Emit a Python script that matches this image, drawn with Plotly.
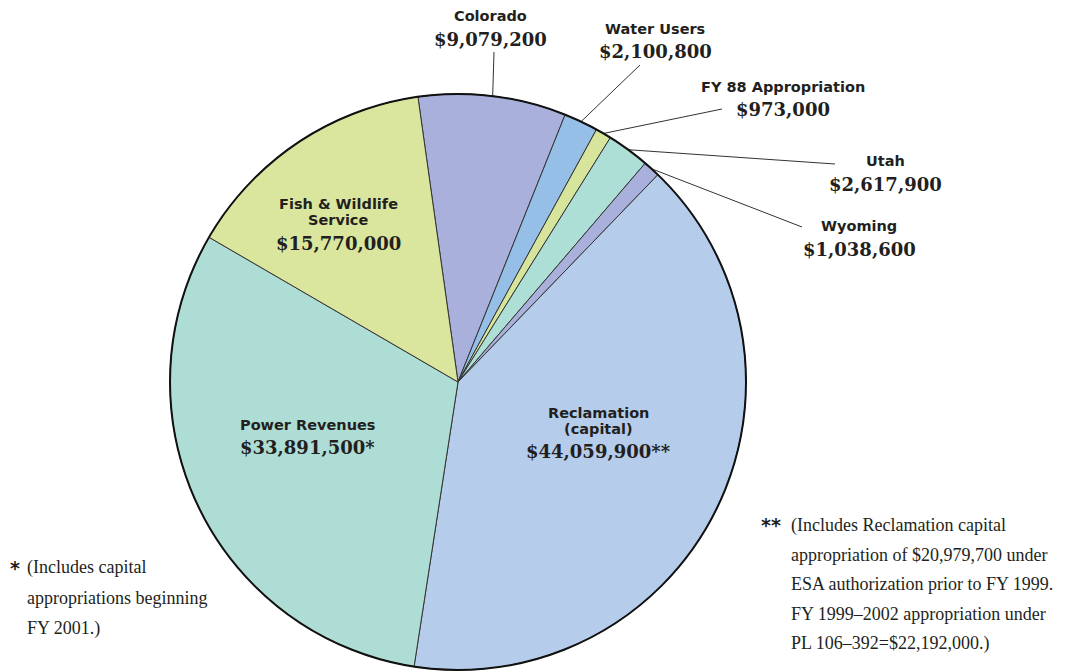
import math
import plotly.graph_objects as go

W, H = 1085, 671

# ---- data ----
labels = ["Colorado", "Water Users", "FY 88 Appropriation", "Utah", "Wyoming",
          "Reclamation (capital)", "Power Revenues", "Fish & Wildlife Service"]
values = [9079200, 2100800, 973000, 2617900, 1038600, 44059900, 33891500, 15770000]
colors = ["#A9B0DC", "#95BFE6", "#D7E59C", "#AEDFD6", "#A9B0DC",
          "#B5CDEB", "#AEDDD5", "#DAE69D"]
name_lines = [["Colorado"], ["Water Users"], ["FY 88 Appropriation"], ["Utah"], ["Wyoming"],
              ["Reclamation", "(capital)"], ["Power Revenues"], ["Fish & Wildlife", "Service"]]
value_suffix = ["", "", "", "", "", "**", "*", ""]
note_left = ["(Includes capital", "appropriations beginning", "FY 2001.)"]
note_right = ["(Includes Reclamation capital", "appropriation of $20,979,700 under",
              "ESA authorization prior to FY 1999.", "FY 1999\u20132002 appropriation under",
              "PL 106\u2013392=$22,192,000.)"]

# ---- layout helpers (screen pixel -> paper; page body has an 8px margin) ----
OFF = 8

def px(x):
    return (x - OFF) / W

def py(y):
    return 1 - (y - OFF) / H

cx, cy, R = 458, 382, 288
total = sum(values)
rotation = -8

fig = go.Figure(go.Pie(
    labels=labels, values=values, sort=False, direction="clockwise",
    rotation=rotation, textinfo="none", hoverinfo="label+value",
    marker=dict(colors=colors, line=dict(color="#333333", width=1)),
    domain=dict(x=[px(cx - R), px(cx + R)], y=[py(cy + R), py(cy - R)]),
    showlegend=False,
))

TXT = "#231f20"
SANS = "DejaVu Sans"
SERIF = "DejaVu Serif"

# label anchor positions (screen px): x center, name y, value y
label_pos = [
    (490, 16, 39),
    (655, 29, 52),
    (783, 87, 110),
    (885, 161, 185),
    (859, 226, 249),
    (598, 413, 452),
    (307, 425, 448),
    (338, 204, 243),
]

annotations = []
for i, (x, yn, yv) in enumerate(label_pos):
    for j, ln in enumerate(name_lines[i]):
        annotations.append(dict(
            x=px(x), y=py(yn + 16 * j), xref="paper", yref="paper", text="<b>" + ln + "</b>",
            showarrow=False, xanchor="center", yanchor="middle",
            font=dict(family=SANS, size=14.5, color=TXT)))
    annotations.append(dict(
        x=px(x), y=py(yv), xref="paper", yref="paper",
        text="<b>${:,}{}</b>".format(values[i], value_suffix[i]),
        showarrow=False, xanchor="center", yanchor="middle",
        font=dict(family=SERIF, size=18, color=TXT)))

# footnotes
NOTE = dict(family="Liberation Serif", size=18, color=TXT)
STAR = dict(family="DejaVu Sans", size=19, color=TXT)
annotations.append(dict(x=px(8), y=py(568), xref="paper", yref="paper", text="<b>*</b>",
                        showarrow=False, xanchor="left", yanchor="middle", font=STAR))
for k, ln in enumerate(note_left):
    annotations.append(dict(x=px(25), y=py(567 + 30.5 * k), xref="paper", yref="paper", text=ln,
                            showarrow=False, xanchor="left", yanchor="middle", font=NOTE))
annotations.append(dict(x=px(759), y=py(525), xref="paper", yref="paper", text="<b>**</b>",
                        showarrow=False, xanchor="left", yanchor="middle", font=STAR))
for k, ln in enumerate(note_right):
    annotations.append(dict(x=px(789), y=py(525 + 29.5 * k), xref="paper", yref="paper", text=ln,
                            showarrow=False, xanchor="left", yanchor="middle", font=NOTE))

# leader lines: from label to rim at each small slice's middle angle
leader_start = {0: (494, 52), 1: (640, 65), 2: (722, 109), 3: (835, 164), 4: (802, 227)}
shapes = []
acc = 0.0
for i, v in enumerate(values):
    a0 = rotation + 360 * acc / total
    acc += v
    a1 = rotation + 360 * acc / total
    if i in leader_start:
        am = math.radians((a0 + a1) / 2)
        ex = cx + R * math.sin(am)
        ey = cy - R * math.cos(am)
        sx, sy = leader_start[i]
        shapes.append(dict(type="line", xref="paper", yref="paper",
                           x0=px(sx), y0=py(sy), x1=px(ex), y1=py(ey),
                           line=dict(color="#333333", width=1)))
# outer rim
shapes.append(dict(type="circle", xref="paper", yref="paper",
                   x0=px(cx - R), x1=px(cx + R), y0=py(cy + R), y1=py(cy - R),
                   line=dict(color="#111111", width=2)))

fig.update_layout(
    width=W, height=H, margin=dict(l=0, r=0, t=0, b=0),
    paper_bgcolor="white", plot_bgcolor="white",
    annotations=annotations, shapes=shapes,
)

fig.write_html("out.html")
